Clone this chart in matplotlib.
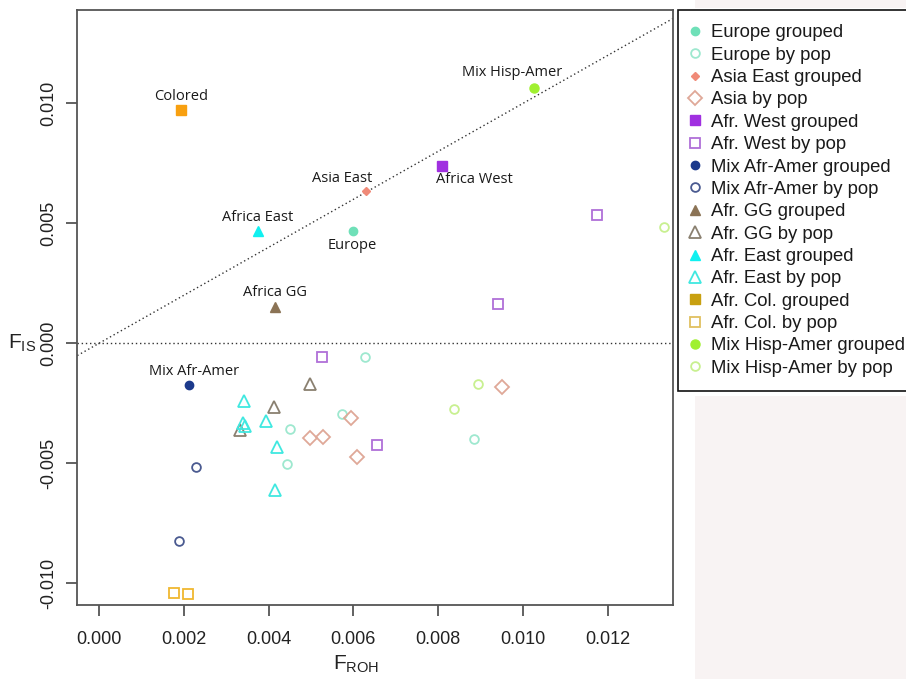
import matplotlib.pyplot as plt
from matplotlib.lines import Line2D
from matplotlib.patches import Rectangle

# grouped estimates (F_ROH, F_IS)
grp_names = ['Europe', 'Asia East', 'Africa West', 'Mix Afr-Amer',
             'Africa GG', 'Africa East', 'Colored', 'Mix Hisp-Amer']
grp_froh = [0.00600, 0.00629, 0.00809, 0.00212, 0.00414, 0.00374, 0.00193, 0.01026]
grp_fis = [0.00469, 0.00635, 0.00739, -0.00175, 0.00150, 0.00469, 0.00973, 0.01063]

# per-population estimates
eur_froh = [0.00628, 0.00574, 0.00450, 0.00443, 0.00885]
eur_fis = [-0.00058, -0.00295, -0.00358, -0.00502, -0.00399]
asia_froh = [0.00594, 0.00498, 0.00528, 0.00608, 0.00950]
asia_fis = [-0.00310, -0.00393, -0.00390, -0.00474, -0.00183]
afw_froh = [0.00525, 0.00655, 0.01175, 0.00940]
afw_fis = [-0.00056, -0.00424, 0.00535, 0.00164]
aam_froh = [0.00228, 0.00188]
aam_fis = [-0.00517, -0.00822]
agg_froh = [0.00498, 0.00413, 0.00332]
agg_fis = [-0.00171, -0.00264, -0.00361]
aea_froh = [0.00342, 0.00340, 0.00345, 0.00395, 0.00420, 0.00414]
aea_fis = [-0.00242, -0.00333, -0.00345, -0.00324, -0.00431, -0.00611]
col_froh = [0.00178, 0.00209]
col_fis = [-0.01039, -0.01045]
hisp_froh = [0.00893, 0.00837, 0.01333]
hisp_fis = [-0.00170, -0.00272, 0.00486]

legend_labels = ['Europe grouped', 'Europe by pop', 'Asia East grouped', 'Asia by pop',
                 'Afr. West grouped', 'Afr. West by pop', 'Mix Afr-Amer grouped',
                 'Mix Afr-Amer by pop', 'Afr. GG grouped', 'Afr. GG by pop',
                 'Afr. East grouped', 'Afr. East by pop', 'Afr. Col. grouped',
                 'Afr. Col. by pop', 'Mix Hisp-Amer grouped', 'Mix Hisp-Amer by pop']

# marker, size, filled colour / open colour
styles = {
    'Europe': ('o', 6.0, '#6fe0b8', '#9ee8cf'),
    'Asia East': ('D', 4.0, '#f08a78', '#dfa898'),
    'Africa West': ('s', 6.5, '#a030e0', '#b070d8'),
    'Mix Afr-Amer': ('o', 6.0, '#1c3a8c', '#4a5a90'),
    'Africa GG': ('^', 7.5, '#8b7355', '#8a8070'),
    'Africa East': ('^', 7.5, '#10f0f0', '#40e8e0'),
    'Colored': ('s', 6.5, '#f8a010', '#f0b830'),
    'Mix Hisp-Amer': ('o', 6.5, '#a0f030', '#c8f090'),
}
open_sizes = {'o': 6.3, 'D': 6.8, 's': 6.9, '^': 8.0}

# label offsets in points
offsets = {
    'Europe': (-1, -10.8), 'Asia East': (-17, 9.1), 'Africa West': (23, -9.6),
    'Mix Afr-Amer': (4, 9.8), 'Africa GG': (0, 10.5), 'Africa East': (0, 9.6),
    'Colored': (0, 9.9), 'Mix Hisp-Amer': (-15.6, 11.2),
}

fig = plt.figure(figsize=(9.06, 6.79), dpi=100)
fig.patches.append(Rectangle((695 / 906, 0), 211 / 906, 283 / 679, transform=fig.transFigure,
                             facecolor='#f8f3f3', edgecolor='none', zorder=-5))
fig.patches.append(Rectangle((695 / 906, 1 - 8 / 679), 211 / 906, 8 / 679,
                             transform=fig.transFigure,
                             facecolor='#f8f3f3', edgecolor='none', zorder=-5))

ax = fig.add_axes([0.0853, 0.1085, 0.6572, 0.8768])
ax.set_xlim(-0.000512, 0.01353)
ax.set_ylim(-0.01092, 0.01389)

# reference lines
ax.axhline(0, color='#333333', lw=1.0, ls=(0, (1, 2)), zorder=1)
ax.axline((0, 0), slope=1, color='#333333', lw=1.0, ls=(0, (1, 2)), zorder=1)

pops = [
    ('Europe', eur_froh, eur_fis), ('Asia East', asia_froh, asia_fis),
    ('Africa West', afw_froh, afw_fis), ('Mix Afr-Amer', aam_froh, aam_fis),
    ('Africa GG', agg_froh, agg_fis), ('Africa East', aea_froh, aea_fis),
    ('Colored', col_froh, col_fis), ('Mix Hisp-Amer', hisp_froh, hisp_fis),
]
for name, xs, ys in pops:
    m, _, _, c = styles[name]
    ax.plot(xs, ys, ls='none', marker=m, ms=open_sizes[m], mfc='none', mec=c, mew=1.3, zorder=3)

for name, x, y in zip(grp_names, grp_froh, grp_fis):
    m, s, c, _ = styles[name]
    ax.plot([x], [y], ls='none', marker=m, ms=s, mfc=c, mec=c, zorder=4)
    ax.annotate(name, (x, y), xytext=offsets[name], textcoords='offset points',
                ha='center', va='center', fontsize=10.5, family='Open Sans', color='#1a1a1a')

for sp in ax.spines.values():
    sp.set_color('#555555')
    sp.set_linewidth(1.3)

ax.set_xticks([0.000, 0.002, 0.004, 0.006, 0.008, 0.010, 0.012])
ax.set_xticklabels(['0.000', '0.002', '0.004', '0.006', '0.008', '0.010', '0.012'])
ax.set_yticks([-0.010, -0.005, 0.000, 0.005, 0.010])
ax.set_yticklabels(['-0.010', '-0.005', '0.000', '0.005', '0.010'], rotation=90, va='center')
ax.tick_params(axis='both', length=7.7, width=1.3, color='#555555', labelsize=13,
               labelcolor='#222222', labelfontfamily='Liberation Sans')
ax.tick_params(axis='x', pad=11)
ax.tick_params(axis='y', pad=6.5)

fig.text(8 / 906, 1 - 343 / 679, r'$\mathregular{F_{IS}}$', fontsize=15,
         family='Liberation Sans', ha='left', va='center', color='#222222')
fig.text(356 / 906, 1 - 664 / 679, r'$\mathregular{F_{ROH}}$', fontsize=15,
         family='Liberation Sans', ha='center', va='center', color='#222222')

# legend proxies (Afr. Col. uses a gold key)
legend_cols = {'Colored': ('#c8a010', '#e0c060')}
handles = []
for name in grp_names:
    m, s, cf, co = styles[name]
    if name in legend_cols:
        cf, co = legend_cols[name]
    handles.append(Line2D([], [], ls='none', marker=m, ms=s, mfc=cf, mec=cf))
    handles.append(Line2D([], [], ls='none', marker=m, ms=open_sizes[m], mfc='none',
                          mec=co, mew=1.3))

leg = fig.legend(handles, legend_labels, loc='upper left',
                 bbox_to_anchor=(678.3 / 906, 1 - 10 / 679), borderaxespad=0,
                 prop={'family': 'Liberation Sans', 'size': 13.3},
                 frameon=True, fancybox=False, framealpha=1, edgecolor='#111111',
                 borderpad=0.78, labelspacing=0.29, handlelength=0.2, handletextpad=0.8)
leg.get_frame().set_linewidth(1.2)
for t in leg.get_texts():
    t.set_color('#1a1a1a')

fig.savefig('out.png', dpi=100)
